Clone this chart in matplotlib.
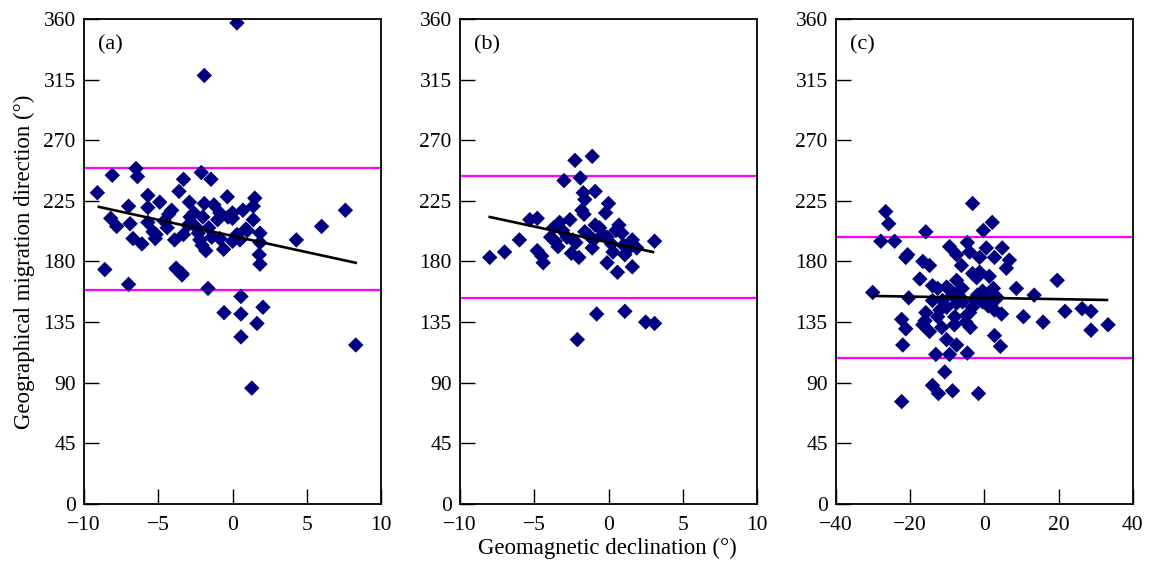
import numpy as np
import matplotlib
matplotlib.use("Agg")
import matplotlib.pyplot as plt

plt.rcParams['font.family'] = ['Liberation Serif', 'DejaVu Serif']

# panel (a) - geomagnetic declination vs migration direction
a_x = [0.3, -1.9, -9.1, -8.1, -6.5, -6.4, -3.3, -2.1, -1.45, -3.6, -5.7, -4.9, -7.0, -8.2,
       -7.8, -6.9, -6.7, -6.1, -5.7, -5.7, -5.35, -5.2, -4.4, -4.1, -3.9, -3.8, -3.4, -3.3,
       -2.9, -2.6, -2.05, -1.8, -1.9, -1.25, -1.0, -0.35, -0.3, 0.0, 0.7, 1.5, 1.4, 1.4,
       0.9, 1.85, 1.85, 1.8, 1.85, 4.3, 6.0, 7.6, -0.6, 0.0, 0.5, -1.4, -2.3, -2.5, -8.6,
       -7.0, -3.75, -3.4, -5.15, -4.3, -2.85, -2.0, -0.85, 0.0, -2.2, -0.85, 0.3,
       -1.65, 0.57, -0.57, 0.57, 2.05, 1.65, 0.57, 8.3, 1.3, -4.6, -3.0, -1.6, 1.0]
a_y = [357, 318, 231, 244, 249, 243, 241, 246, 241, 232, 229, 224, 221, 212,
       206, 208, 197, 193, 220, 209, 202, 197, 205, 218, 196, 175, 171, 200,
       224, 216, 192, 188, 223, 222, 211, 228, 213, 216, 218, 227, 221, 211,
       204, 201, 194, 185, 178, 196, 206, 218, 189, 195, 196, 198, 201, 206, 174,
       163, 174, 170, 200, 215, 213, 213, 216, 212, 196, 197, 200,
       160, 154, 142, 141, 146, 134, 124, 118, 86, 210, 207, 205, 203]

# panel (b)
b_x = [-2.26, -1.1, -3.0, -1.9, -1.7, -0.9, -1.6, -1.8, 0.0, -0.2, -1.65, -5.3, -4.8,
       -6.0, -7.0, -8.0, -4.8, -4.5, -4.4, -3.3, -3.7, -3.9, -3.4, -2.6, -2.5, -2.0,
       -2.4, -1.6, -0.9, -0.6, -1.0, -1.1, -0.1, 0.7, 0.9, 0.3, -0.1, 0.6, 1.1, 1.6,
       1.6, 1.3, 3.1, -0.8, 1.1, 2.5, 3.1, -2.1, -2.8, -3.1, -2.2, -1.3, 0.2, 1.0,
       -3.6, -0.4, 0.5, 1.9]
b_y = [255, 258, 240, 242, 231, 232, 226, 218, 223, 216, 215, 211, 212,
       196, 187, 183, 188, 184, 179, 209, 205, 198, 191, 211, 186, 183,
       196, 202, 207, 205, 196, 190, 198, 207, 201, 187, 179, 172, 185, 196,
       176, 189, 195, 141, 143, 135, 134, 122, 198, 203, 194, 199, 193, 192,
       195, 200, 203, 190]

# panel (c)
c_x = [-26.6, -25.8, -27.9, -24.2, -15.8, -3.2, 2.1, -0.3, -30.1, -20.7, -21.2, -16.6,
       -14.8, -17.4, -20.4, -14.0, -9.4, -7.5, -6.2, -4.6, -4.0, -7.5, -10.2, -12.6,
       0.5, -1.3, 2.7, 4.8, 6.7, 5.9, -3.2, -1.3, 1.3, -2.1, 2.4, 8.6, 13.4, 19.6,
       21.7, 26.3, 28.7, 33.3, 28.7, 15.8, 10.5, 4.6, 2.7, 3.5, -0.5, -3.2, -4.8,
       -3.8, 2.7, 4.3, -4.6, -9.4, -13.1, -7.5, -10.2, -8.1, -10.7, -14.0, -12.4,
       -8.6, -1.6, -22.3, -22.0, -21.2, -22.3, -16.6, -15.8, -14.8, -12.6, -11.5,
       -10.2, -7.5, -4.0, -14.0, -11.3, -8.6, -6.7, -5.9, 0.5, 1.9, -1.9, -9.0,
       -6.0, -2.5, 1.0, -12.0, -5.0, -0.5, -8.0, -16.0]
c_y = [217, 208, 195, 195, 202, 223, 209, 203, 157, 185, 183, 180,
       177, 167, 153, 162, 191, 185, 177, 194, 187, 166, 161, 160,
       190, 183, 183, 190, 181, 175, 171, 172, 169, 168, 160, 160, 155, 166,
       143, 145, 143, 133, 129, 135, 139, 141, 144, 153, 150, 146, 140,
       131, 125, 117, 112, 111, 111, 118, 122, 133, 98, 88, 82,
       84, 82, 76, 118, 130, 137, 133, 142, 128, 139, 131,
       146, 149, 142, 151, 151, 155, 154, 150, 154, 149, 155, 158,
       160, 152, 147, 144, 135, 158, 139, 136]

labels = ["(a)", "(b)", "(c)"]
xlims = [(-10, 10), (-10, 10), (-40, 40)]
xticks = [[-10, -5, 0, 5, 10], [-10, -5, 0, 5, 10], [-40, -20, 0, 20, 40]]
yticks = [0, 45, 90, 135, 180, 225, 270, 315, 360]

# mean +/- limits (magenta) and regression endpoints
bands = [(158.9, 249.4), (153, 243.5), (108, 198)]
fit_x = [(-9.0, 8.3), (-8.0, 3.0), (-30.0, 33.0)]
fit_y = [(220.5, 179.0), (213.0, 187.0), (154.4, 151.4)]

data = [(a_x, a_y), (b_x, b_y), (c_x, c_y)]

fig = plt.figure(figsize=(11.51, 5.68), dpi=100)
lefts = [0.073, 0.3997, 0.7263]
axes = []
for i in range(3):
    ax = fig.add_axes([lefts[i], 0.1127, 0.258, 0.854])
    axes.append(ax)
    x, y = data[i]
    ax.axhline(bands[i][0], color='#FF00FF', lw=1.6, zorder=1)
    ax.axhline(bands[i][1], color='#FF00FF', lw=1.6, zorder=1)
    ax.scatter(x, y, marker='D', s=62, color='#000080', edgecolors='none', zorder=2)
    ax.plot(fit_x[i], fit_y[i], color='black', lw=1.9, zorder=3)
    ax.set_xlim(*xlims[i])
    ax.set_ylim(0, 360)
    ax.set_xticks(xticks[i])
    ax.set_yticks(yticks)
    ax.tick_params(direction='in', length=11, width=1, labelsize=15.5,
                   top=False, right=False)
    ax.tick_params(axis='y', pad=6)
    ax.tick_params(axis='x', pad=9)
    for s in ax.spines.values():
        s.set_linewidth(1.3)
    ax.text(0.047, 0.946, labels[i], transform=ax.transAxes, fontsize=16,
            ha='left', va='center')

axes[0].set_ylabel("Geographical migration direction (°)", fontsize=16.5, labelpad=6)
fig.text(0.528, 0.035, "Geomagnetic declination (°)", fontsize=16.5, ha='center', va='center')

fig.savefig("out.png", dpi=100)
